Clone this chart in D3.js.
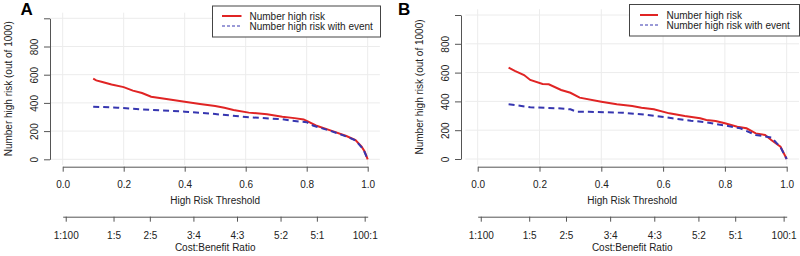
<!DOCTYPE html>
<html>
<head>
<meta charset="utf-8">
<script src="https://cdn.jsdelivr.net/npm/d3@7"></script>
<style>
  body { margin: 0; background: #fff; }
  svg { font-family: "Liberation Sans", Arial, sans-serif; }
  .axis path, .axis line { stroke: #555; }
  .axis text { fill: #222; font-size: 10px; }
</style>
</head>
<body>
<div id="chart"></div>
<script>
// thresholds and values
var threshA_red = [0.10,0.11,0.13,0.16,0.20,0.23,0.26,0.29,0.34,0.40,0.45,0.50,0.53,0.56,0.61,0.67,0.72,0.76,0.79,0.81,0.83,0.88,0.93,0.96,0.98,0.99,1.00];
var highRiskA    = [572,560,548,530,512,487,470,444,428,408,392,378,365,350,331,319,302,292,283,262,240,203,165,137,90,55,0];
var threshA_blue = [0.10,0.18,0.29,0.40,0.50,0.61,0.72,0.75,0.80,0.82,0.88,0.93,0.96,0.98,0.99,1.00];
var withEventA   = [373,366,350,338,321,298,284,274,263,240,200,162,134,85,50,0];

var threshB_red = [0.10,0.12,0.15,0.17,0.21,0.23,0.27,0.30,0.33,0.40,0.45,0.50,0.53,0.57,0.62,0.67,0.72,0.74,0.77,0.80,0.84,0.87,0.90,0.93,0.95,0.98,1.00];
var highRiskB    = [634,612,583,549,521,519,479,460,426,398,380,368,356,345,317,298,283,271,264,248,224,213,178,167,132,85,0];
var threshB_blue = [0.10,0.12,0.17,0.26,0.30,0.32,0.36,0.47,0.55,0.63,0.69,0.74,0.81,0.85,0.90,0.95,0.98,1.00];
var withEventB   = [380,375,359,352,345,328,328,321,306,283,266,255,229,213,167,150,82,0];

var yTicks = [0,200,400,600,800,1000];
var xTicks = [0,0.2,0.4,0.6,0.8,1.0];
var cbLabels = ["1:100","1:5","2:5","3:4","4:3","5:2","5:1","100:1"];
var cbThresh = [1/101,1/6,2/7,3/7,4/7,5/7,5/6,100/101];
var legendLabels = ["Number high risk","Number high risk with event"];

var svg = d3.select("#chart").append("svg")
    .attr("width", 800)
    .attr("height", 256);

function draw_panel(p){
    var g = svg.append("g");
    var x = d3.scaleLinear().domain([0,1]).range([p.x0, p.x1]);
    var y = d3.scaleLinear().domain([0,1000]).range([p.y0, p.y1]);

    // light grid over the whole plot area
    var gx0 = x(-0.04), gx1 = x(1.04), gy0 = y(-40), gy1 = y(1040);
    g.selectAll(".vgrid").data(xTicks).enter().append("line")
        .attr("x1", d => x(d)).attr("x2", d => x(d))
        .attr("y1", gy0).attr("y2", gy1)
        .attr("stroke", "#ececec");
    g.selectAll(".hgrid").data(yTicks).enter().append("line")
        .attr("x1", gx0).attr("x2", gx1)
        .attr("y1", d => y(d)).attr("y2", d => y(d))
        .attr("stroke", "#ececec");

    // y axis, vertical labels
    var yAxis = d3.axisLeft(y).tickValues(yTicks).tickSize(6).tickSizeOuter(0)
        .tickFormat(d => d == 1000 ? "" : d);
    var ya = g.append("g").attr("class", "axis")
        .attr("transform", "translate(" + p.yAxisX + ",0)")
        .call(yAxis);
    ya.selectAll("text")
        .attr("x", null).attr("dy", "0.35em")
        .attr("text-anchor", "middle")
        .attr("transform", "translate(-15.5,0) rotate(-90)");

    g.append("text")
        .attr("transform", "translate(" + (p.yAxisX - 42) + "," + ((gy0 + gy1) / 2) + ") rotate(-90)")
        .attr("dy", "0.35em")
        .attr("text-anchor", "middle")
        .attr("font-size", 10).attr("fill", "#222")
        .text("Number high risk (out of 1000)");

    // threshold axis
    var xAxis = d3.axisBottom(x).tickValues(xTicks).tickSize(5).tickSizeOuter(0)
        .tickPadding(9).tickFormat(d3.format(".1f"));
    g.append("g").attr("class", "axis")
        .attr("transform", "translate(0," + p.xAxisY + ")")
        .call(xAxis);
    g.append("text")
        .attr("x", (p.x0 + p.x1) / 2).attr("y", 203.6)
        .attr("text-anchor", "middle")
        .attr("font-size", 10).attr("fill", "#222")
        .text("High Risk Threshold");

    // cost:benefit axis
    var cbAxis = d3.axisBottom(x).tickValues(cbThresh).tickSize(5).tickSizeOuter(0)
        .tickPadding(10).tickFormat((d, i) => cbLabels[i]);
    g.append("g").attr("class", "axis")
        .attr("transform", "translate(0," + p.cbAxisY + ")")
        .call(cbAxis);
    g.append("text")
        .attr("x", (p.x0 + p.x1) / 2).attr("y", 251.3)
        .attr("text-anchor", "middle")
        .attr("font-size", 10).attr("fill", "#222")
        .text("Cost:Benefit Ratio");

    // curves
    var line = d3.line().x(d => x(d[0])).y(d => y(d[1]));
    g.append("path")
        .datum(d3.zip(p.tRed, p.red))
        .attr("d", line)
        .attr("fill", "none").attr("stroke", "#e02424").attr("stroke-width", 2);
    g.append("path")
        .datum(d3.zip(p.tBlue, p.blue))
        .attr("d", line)
        .attr("fill", "none").attr("stroke", "#3636b0").attr("stroke-width", 2)
        .attr("stroke-dasharray", "6,4");

    // legend
    var L = p.legend;
    g.append("rect")
        .attr("x", L.x0 + 0.5).attr("y", L.y0 + 0.5)
        .attr("width", L.x1 - L.x0).attr("height", L.y1 - L.y0)
        .attr("fill", "#fff").attr("stroke", "#444");
    var rows = g.selectAll(".leg").data(legendLabels).enter().append("g")
        .attr("transform", (d, i) => "translate(0," + (L.row + i * 10) + ")");
    rows.append("line")
        .attr("x1", L.lx0).attr("x2", L.lx1)
        .attr("stroke", (d, i) => i == 0 ? "#e02424" : "#3636b0")
        .attr("stroke-width", (d, i) => i == 0 ? 2 : 1.2)
        .attr("stroke-dasharray", (d, i) => i == 0 ? null : "3,2");
    rows.append("text")
        .attr("x", L.tx).attr("dy", "0.35em")
        .attr("font-size", 10).attr("fill", "#222")
        .text(d => d);

    // panel letter
    g.append("text")
        .attr("x", p.letterX).attr("y", 15)
        .attr("font-size", 17).attr("font-weight", "bold")
        .text(p.letter);
}

draw_panel({
    letter: "A", letterX: 20.5,
    x0: 62.7, x1: 367.7, y0: 159.3, y1: 18.3,
    yAxisX: 50, xAxisY: 166.7, cbAxisY: 216.7,
    tRed: threshA_red, red: highRiskA, tBlue: threshA_blue, blue: withEventA,
    legend: {x0: 212, x1: 380, y0: 5.5, y1: 36.5, row: 16, lx0: 222, lx1: 241.5, tx: 249.5}
});
draw_panel({
    letter: "B", letterX: 398,
    x0: 477.7, x1: 786.7, y0: 159, y1: 15,
    yAxisX: 461, xAxisY: 166.7, cbAxisY: 216.7,
    tRed: threshB_red, red: highRiskB, tBlue: threshB_blue, blue: withEventB,
    legend: {x0: 629, x1: 799, y0: 4, y1: 35.5, row: 15, lx0: 640, lx1: 658, tx: 666.5}
});
</script>
</body>
</html>
